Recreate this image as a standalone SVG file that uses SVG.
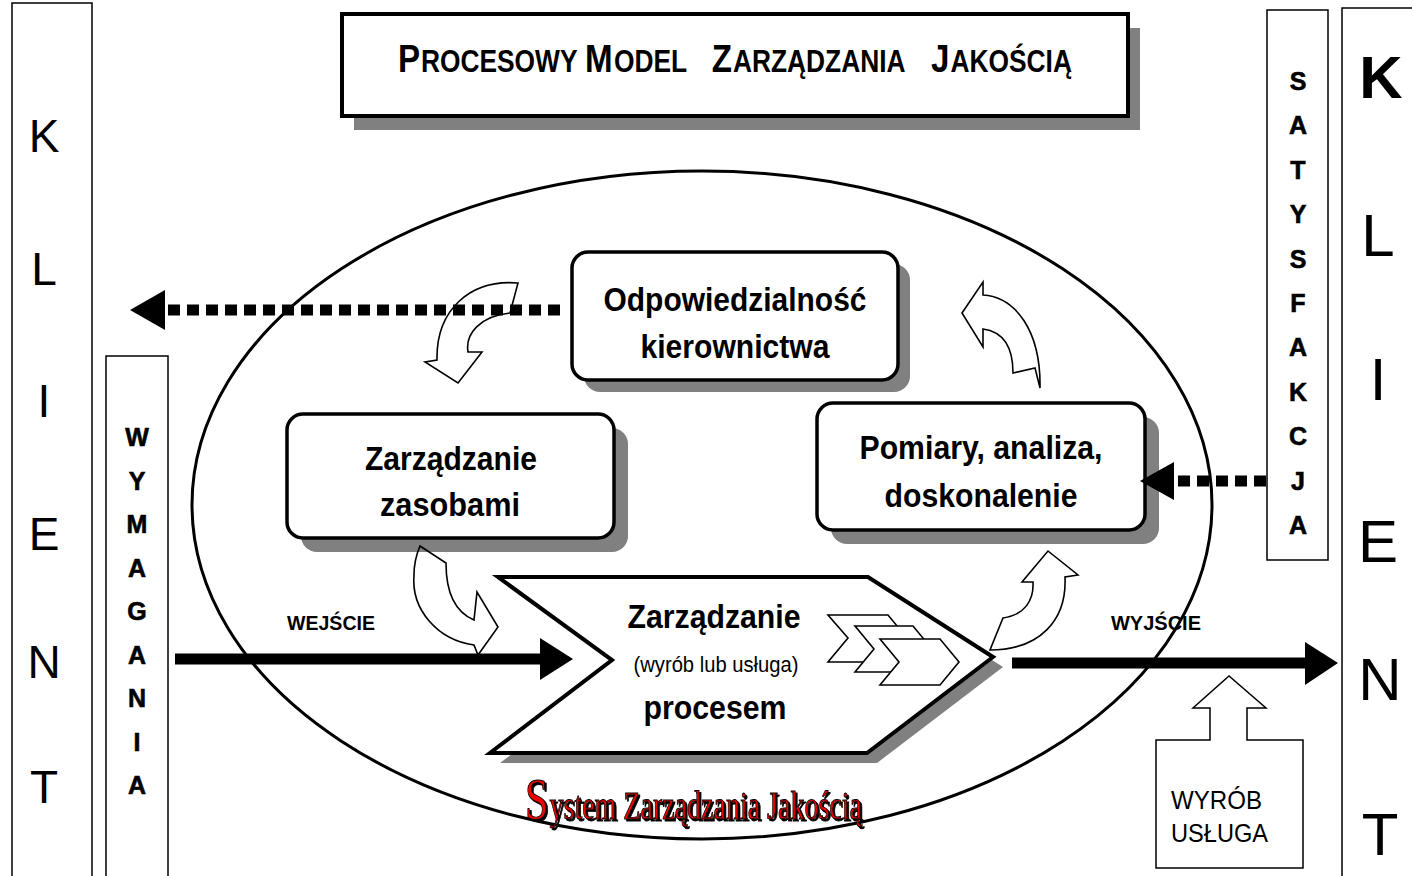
<svg xmlns="http://www.w3.org/2000/svg" width="1412" height="876" viewBox="0 0 1412 876">
<defs>
  <filter id="wordShadow" x="-10%" y="-20%" width="130%" height="150%">
    <feOffset in="SourceAlpha" dx="2" dy="2" result="off"/>
    <feMerge><feMergeNode in="off"/><feMergeNode in="SourceGraphic"/></feMerge>
  </filter>
</defs>
<style>
  text { font-family: "Liberation Sans", Arial, sans-serif; fill: #000; }
  .frame { fill: #fff; stroke: #000; stroke-width: 1.5; }
  .shadow { fill: #808080; }
  .box { fill: #fff; stroke: #000; stroke-width: 3.5; }
  .lbl { font-weight: bold; font-size: 34px; text-anchor: middle; }
  .kl { font-size: 46px; text-anchor: middle; }
  .kr { font-size: 60px; text-anchor: middle; }
  .vert { font-weight: bold; font-size: 25px; text-anchor: middle; stroke: #000; stroke-width: 0.6; }
  .curve { fill: none; stroke: #000; stroke-width: 1.6; }
  .dots { fill: none; stroke: #000; stroke-width: 11; stroke-dasharray: 12 7; }
  .flow { stroke: #000; stroke-width: 11; }
  .io { font-weight: bold; font-size: 21px; text-anchor: middle; }
  .ttl { font-weight: bold; font-size: 31px; }
  .tb { font-weight: bold; font-size: 39px; }
  .word { font-family: "Liberation Serif", "Times New Roman", serif; fill: #f00000; stroke: #000; stroke-width: 0.9; }
</style>
<rect width="1412" height="876" fill="#fff"/>

<!-- customer column, left -->
<g id="klient-left">
  <rect class="frame" x="12" y="3" width="80" height="890"/>
  <text class="kl" x="44" y="152">K</text>
  <text class="kl" x="44" y="285">L</text>
  <text class="kl" x="44" y="417">I</text>
  <text class="kl" x="44" y="550">E</text>
  <text class="kl" x="44" y="678">N</text>
  <text class="kl" x="44" y="803">T</text>
</g>

<!-- requirements column -->
<g id="wymagania">
  <rect class="frame" x="106" y="356" width="62" height="540"/>
  <text class="vert" x="137" y="446">W</text>
  <text class="vert" x="137" y="490">Y</text>
  <text class="vert" x="137" y="533">M</text>
  <text class="vert" x="137" y="577">A</text>
  <text class="vert" x="137" y="620">G</text>
  <text class="vert" x="137" y="664">A</text>
  <text class="vert" x="137" y="707">N</text>
  <text class="vert" x="137" y="751">I</text>
  <text class="vert" x="137" y="794">A</text>
</g>

<!-- satisfaction column -->
<g id="satysfakcja">
  <rect class="frame" x="1267" y="10" width="61" height="550"/>
  <text class="vert" x="1298" y="90">S</text>
  <text class="vert" x="1298" y="134">A</text>
  <text class="vert" x="1298" y="179">T</text>
  <text class="vert" x="1298" y="223">Y</text>
  <text class="vert" x="1298" y="268">S</text>
  <text class="vert" x="1298" y="312">F</text>
  <text class="vert" x="1298" y="356">A</text>
  <text class="vert" x="1298" y="401">K</text>
  <text class="vert" x="1298" y="445">C</text>
  <text class="vert" x="1298" y="490">J</text>
  <text class="vert" x="1298" y="534">A</text>
</g>

<!-- customer column, right -->
<g id="klient-right">
  <rect class="frame" x="1342" y="8" width="90" height="890"/>
  <text class="kr" x="1381" y="98" font-weight="bold">K</text>
  <text class="kr" x="1378" y="256">L</text>
  <text class="kr" x="1378" y="400">I</text>
  <text class="kr" x="1378" y="562">E</text>
  <text class="kr" x="1380" y="700">N</text>
  <text class="kr" x="1380" y="855">T</text>
</g>

<!-- title, set in condensed small capitals -->
<g id="title">
  <rect class="shadow" x="354" y="28" width="786" height="102"/>
  <rect fill="#fff" stroke="#000" stroke-width="4" x="342" y="14" width="786" height="102"/>
  <g transform="translate(398,72) scale(0.85,1)">
    <text class="tb" x="0" y="0">P</text>
    <text class="ttl" x="27" y="0">ROCESOWY</text>
    <text class="tb" x="220" y="0">M</text>
    <text class="ttl" x="254" y="0">ODEL</text>
    <text class="tb" x="369" y="0">Z</text>
    <text class="ttl" x="394" y="0">ARZĄDZANIA</text>
    <text class="tb" x="627" y="0">J</text>
    <text class="ttl" x="650" y="0">AKOŚCIĄ</text>
  </g>
</g>

<!-- quality management system boundary -->
<g id="system">
  <ellipse cx="702" cy="505" rx="510" ry="334" fill="none" stroke="#000" stroke-width="3"/>
  <g filter="url(#wordShadow)">
    <g transform="translate(525,819) scale(0.70,1)">
      <text class="word" x="0" y="0" font-size="60">S</text>
      <text class="word" x="35" y="0" font-size="40">ystem Zarządzania Jakością</text>
    </g>
  </g>
</g>

<g id="odpowiedzialnosc">
  <rect class="shadow" x="584" y="264" width="326" height="128" rx="16"/>
  <rect class="box" x="572" y="252" width="326" height="128" rx="16"/>
  <text class="lbl" x="735" y="311" textLength="263" lengthAdjust="spacingAndGlyphs">Odpowiedzialność</text>
  <text class="lbl" x="735" y="358" textLength="189" lengthAdjust="spacingAndGlyphs">kierownictwa</text>
</g>

<g id="zasoby">
  <rect class="shadow" x="301" y="428" width="327" height="124" rx="16"/>
  <rect class="box" x="287" y="414" width="327" height="124" rx="16"/>
  <text class="lbl" x="451" y="470" textLength="172" lengthAdjust="spacingAndGlyphs">Zarządzanie</text>
  <text class="lbl" x="450" y="516" textLength="140" lengthAdjust="spacingAndGlyphs">zasobami</text>
</g>

<g id="pomiary">
  <rect class="shadow" x="831" y="417" width="328" height="127" rx="16"/>
  <rect class="box" x="817" y="403" width="328" height="127" rx="16"/>
  <text class="lbl" x="981" y="459" textLength="243" lengthAdjust="spacingAndGlyphs">Pomiary, analiza,</text>
  <text class="lbl" x="981" y="507" textLength="193" lengthAdjust="spacingAndGlyphs">doskonalenie</text>
</g>

<g id="proces">
  <polygon class="shadow" points="508,587 878,587 1003,667 877,763 500,763 622,670"/>
  <polygon fill="#fff" stroke="#000" stroke-width="4" stroke-linejoin="miter" points="498,577 868,577 993,657 867,753 490,753 612,660"/>
  <text class="lbl" x="714" y="628" textLength="173" lengthAdjust="spacingAndGlyphs">Zarządzanie</text>
  <text x="716" y="672" text-anchor="middle" font-size="22" textLength="165" lengthAdjust="spacingAndGlyphs">(wyrób lub usługa)</text>
  <text class="lbl" x="715" y="719" textLength="143" lengthAdjust="spacingAndGlyphs">procesem</text>
  <g fill="#fff" stroke="#000" stroke-width="1.6">
    <polygon points="828,615 888,615 907,638 888,662 828,662 848,638"/>
    <polygon points="855,626 913,626 932,649 913,672 855,672 874,649"/>
    <polygon points="880,639 940,639 959,662 940,685 880,685 899,662"/>
  </g>
</g>

<g id="wyrob">
  <path fill="#fff" stroke="#000" stroke-width="1.5" d="M1156,740 L1210,740 L1210,708 L1193,708 L1229,676 L1266,708 L1247,708 L1247,740 L1303,740 L1303,868 L1156,868 Z"/>
  <text x="1171" y="809" font-size="26" textLength="91" lengthAdjust="spacingAndGlyphs">WYRÓB</text>
  <text x="1171" y="842" font-size="26" textLength="97" lengthAdjust="spacingAndGlyphs">USŁUGA</text>
</g>

<!-- connectors -->
<g id="connectors">
  <!-- cycle arrows -->
  <path class="curve" d="M518,283 C470,279 436,310 437,360 L425,362 L458,383 L482,352 L468,352 C465,334 480,316 510,313 Z"/>
  <path class="curve" d="M962,313 L983,282 L983,295 C1015,297 1041,330 1040,388 L1035,368 L1013,373 C1013,350 1005,332 983,329 L983,347 Z"/>
  <path class="curve" d="M420,546 L446,563 C446,592 455,612 474,620 L477,592 L498,627 L478,655 L474,645 C438,640 411,610 414,575 C414,562 417,553 420,546 Z"/>
  <path class="curve" d="M1048,551 L1078,575 L1065,577 C1067,620 1040,650 990,650 L1003,618 C1025,615 1034,600 1033,582 L1022,582 Z"/>

  <!-- feedback to and from the customer -->
  <line class="dots" x1="560" y1="310" x2="164" y2="310"/>
  <polygon points="130,310 165,290 165,330"/>
  <line class="dots" x1="1266" y1="481" x2="1172" y2="481"/>
  <polygon points="1140,481 1174,462 1174,500"/>

  <!-- input / output -->
  <line class="flow" x1="175" y1="659" x2="542" y2="659"/>
  <polygon points="573,659 540,638 540,680"/>
  <text class="io" x="331" y="630" textLength="88" lengthAdjust="spacingAndGlyphs">WEJŚCIE</text>
  <line class="flow" x1="1012" y1="663" x2="1308" y2="663"/>
  <polygon points="1338,663 1305,642 1305,685"/>
  <text class="io" x="1156" y="630" textLength="90" lengthAdjust="spacingAndGlyphs">WYJŚCIE</text>
</g>
</svg>
